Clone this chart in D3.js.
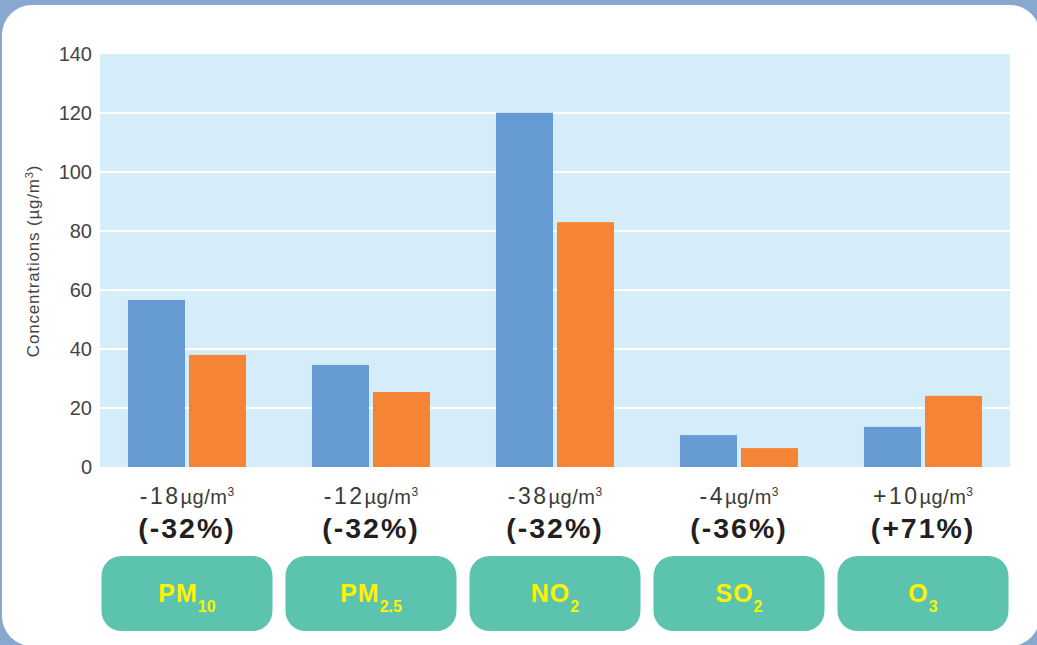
<!DOCTYPE html>
<html>
<head>
<meta charset="utf-8">
<script src="https://cdn.jsdelivr.net/npm/d3@7"></script>
<style>
  body { margin: 0; background: #88a8d0; }
  svg { display: block; font-family: "Liberation Sans", Arial, sans-serif; }
</style>
</head>
<body>
<script>
// Pollutants and their subscripts
var pollutants = ["PM", "PM", "NO", "SO", "O"];
var subscripts = ["10", "2.5", "2", "2", "3"];
var categories = ["PM10", "PM2.5", "NO2", "SO2", "O3"];

// Concentrations (µg/m3), before and after
var before = [56.6, 34.6, 120.1, 10.8, 13.6];
var after = [38.0, 25.4, 83.0, 6.4, 24.1];

// Change labels
var changes = ["-18", "-12", "-38", "-4", "+10"];
var percents = ["(-32%)", "(-32%)", "(-32%)", "(-36%)", "(+71%)"];

var yTicks = [0, 20, 40, 60, 80, 100, 120, 140];

var w = 1037, h = 645;

var svg = d3.select("body").append("svg")
    .attr("width", w)
    .attr("height", h);

// White card
svg.append("rect")
    .attr("x", 2).attr("y", 5)
    .attr("width", 1038).attr("height", 641)
    .attr("rx", 30).attr("ry", 30)
    .style("fill", "#ffffff");

var y = d3.scaleLinear()
    .domain([0, 140])
    .range([467, 54]);

var x0 = d3.scaleBand()
    .domain(categories)
    .range([95, 1015]);

var x1 = d3.scaleBand()
    .domain(["before", "after"])
    .range([33, 151])
    .paddingInner(4 / 61);

// Plot background
svg.append("rect")
    .attr("x", 100).attr("y", y(140))
    .attr("width", 910).attr("height", y(0) - y(140))
    .style("fill", "#d5ecf9");

// Gridlines
svg.selectAll(".grid")
    .data(yTicks.filter(function(d){ return d > 0 && d < 140; }))
    .enter().append("line")
    .attr("x1", 100).attr("x2", 1010)
    .attr("y1", function(d){ return y(d); })
    .attr("y2", function(d){ return y(d); })
    .style("stroke", "#ffffff")
    .style("stroke-width", 2);

// Y axis
var yAxis = d3.axisLeft(y).tickValues(yTicks).tickSize(0).tickPadding(8);
var axis = svg.append("g")
    .attr("transform", "translate(100,0)")
    .call(yAxis);
axis.select(".domain").remove();
axis.selectAll("text")
    .style("font-size", "20px")
    .style("fill", "#444")
    .style("font-family", "Liberation Sans, Arial, sans-serif");

// Y axis title
var yTitle = svg.append("text")
    .attr("transform", "translate(39,261) rotate(-90)")
    .attr("text-anchor", "middle")
    .style("font-size", "17px")
    .style("letter-spacing", "0.8px")
    .style("fill", "#444");
yTitle.append("tspan").text("Concentrations (µg/m");
yTitle.append("tspan").attr("dy", -6).style("font-size", "11px").text("3");
yTitle.append("tspan").attr("dy", 6).text(")");

// Bars
var groups = svg.selectAll(".group")
    .data(categories)
    .enter().append("g")
    .attr("transform", function(d){ return "translate(" + x0(d) + ",0)"; });

groups.append("rect")
    .attr("x", x1("before"))
    .attr("width", x1.bandwidth())
    .attr("y", function(d, i){ return y(before[i]); })
    .attr("height", function(d, i){ return y(0) - y(before[i]); })
    .style("fill", "#659ad2");

groups.append("rect")
    .attr("x", x1("after"))
    .attr("width", x1.bandwidth())
    .attr("y", function(d, i){ return y(after[i]); })
    .attr("height", function(d, i){ return y(0) - y(after[i]); })
    .style("fill", "#f58434");

var cx = x0.bandwidth() / 2;

// Change in µg/m3
var line1 = groups.append("text")
    .attr("x", cx).attr("y", 504)
    .attr("text-anchor", "middle")
    .style("fill", "#3a3a3a");
line1.append("tspan")
    .style("font-size", "23px").style("letter-spacing", "2.5px")
    .text(function(d, i){ return changes[i]; });
line1.append("tspan")
    .style("font-size", "20px").style("letter-spacing", "0.5px")
    .text("µg/m");
line1.append("tspan")
    .attr("dy", -8)
    .style("font-size", "12px")
    .text("3");

// Percent change
groups.append("text")
    .attr("x", cx).attr("y", 538)
    .attr("text-anchor", "middle")
    .style("font-size", "28.5px")
    .style("font-weight", "bold")
    .style("letter-spacing", "2px")
    .style("fill", "#231f20")
    .text(function(d, i){ return percents[i]; });

// Pollutant boxes
groups.append("rect")
    .attr("x", cx - 85.5).attr("y", 556)
    .attr("width", 171).attr("height", 75)
    .attr("rx", 20).attr("ry", 20)
    .style("fill", "#5cc3ae");

var names = groups.append("text")
    .attr("x", cx).attr("y", 602)
    .attr("text-anchor", "middle")
    .style("font-weight", "bold")
    .style("fill", "#fff200");
names.append("tspan")
    .style("font-size", "25px").style("letter-spacing", "1px")
    .text(function(d, i){ return pollutants[i]; });
names.append("tspan")
    .attr("dy", 10)
    .style("font-size", "16px")
    .text(function(d, i){ return subscripts[i]; });
</script>
</body>
</html>
